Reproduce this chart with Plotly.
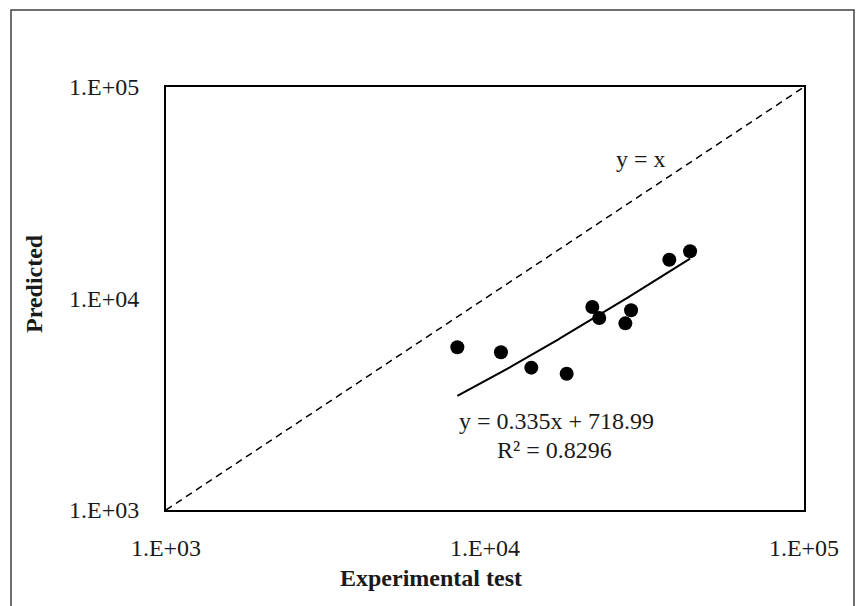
import numpy as np
import plotly.graph_objects as go

# Data
experimental = [8190, 11220, 13970, 18030, 21700, 22810, 27540, 28700, 37830, 43940]
predicted = [5880, 5570, 4710, 4410, 9120, 8090, 7630, 8800, 15250, 16720]

fit_slope = 0.335
fit_intercept = 718.99
fit_r2 = 0.8296

diag_range = [1e3, 1e5]
tick_vals = [1e3, 1e4, 1e5]
tick_text = ["1.E+03", "1.E+04", "1.E+05"]

FONT = "Liberation Serif, Times New Roman, serif"
TXT = "#1a1a1a"

L, R, T, B = 166, 804, 87, 510
W, H = R - L, B - T


def px(x):
    return (x - L) / W


def py(y):
    return (B - y) / H


fig = go.Figure()

# y = x line
fig.add_trace(go.Scatter(
    x=diag_range, y=diag_range, mode="lines",
    line=dict(color="black", width=1.5, dash="7px,5px"),
    showlegend=False, hoverinfo="skip"))

# linear trend line (curved on log axes)
xfit = np.linspace(min(experimental), max(experimental), 200)
yfit = fit_slope * xfit + fit_intercept
fig.add_trace(go.Scatter(
    x=xfit, y=yfit, mode="lines",
    line=dict(color="black", width=2),
    showlegend=False, hoverinfo="skip"))

# data points
fig.add_trace(go.Scatter(
    x=experimental, y=predicted, mode="markers",
    marker=dict(color="black", size=14),
    showlegend=False))

axis_common = dict(
    type="log",
    tickvals=tick_vals, ticktext=tick_text,
    showgrid=False, zeroline=False,
    showline=True, linecolor="black", linewidth=2, mirror=True,
    ticks="",
    tickfont=dict(family=FONT, size=24, color=TXT),
)

fig.update_xaxes(range=[3, 5], ticklabelstandoff=15, **axis_common)
fig.update_yaxes(range=[3, 5], ticklabelstandoff=20, **axis_common)


def label(x, y, text, angle=0):
    fig.add_annotation(x=px(x), y=py(y), xref="paper", yref="paper",
                       xanchor="center", yanchor="middle",
                       text=text, showarrow=False, textangle=angle,
                       font=dict(family=FONT, size=24, color=TXT))


# axis titles
label(431, 578, "<b>Experimental test</b>")
label(34, 284, "<b>Predicted</b>", angle=-90)

# annotations in the plot
label(641, 159, "y = x")
label(556, 421, f"y = {fit_slope}x + {fit_intercept}")
label(554, 450, f"R² = {fit_r2}")

# outer chart border
fig.add_shape(type="rect", xref="paper", yref="paper",
              x0=px(11), x1=px(854), y0=py(640), y1=py(10),
              line=dict(color="#404040", width=1.5), layer="below")

fig.update_layout(
    width=857, height=606,
    margin=dict(l=L, r=857 - R, t=T, b=606 - B),
    paper_bgcolor="white", plot_bgcolor="white",
    font=dict(family=FONT, color=TXT),
)

fig.write_html("out.html")
